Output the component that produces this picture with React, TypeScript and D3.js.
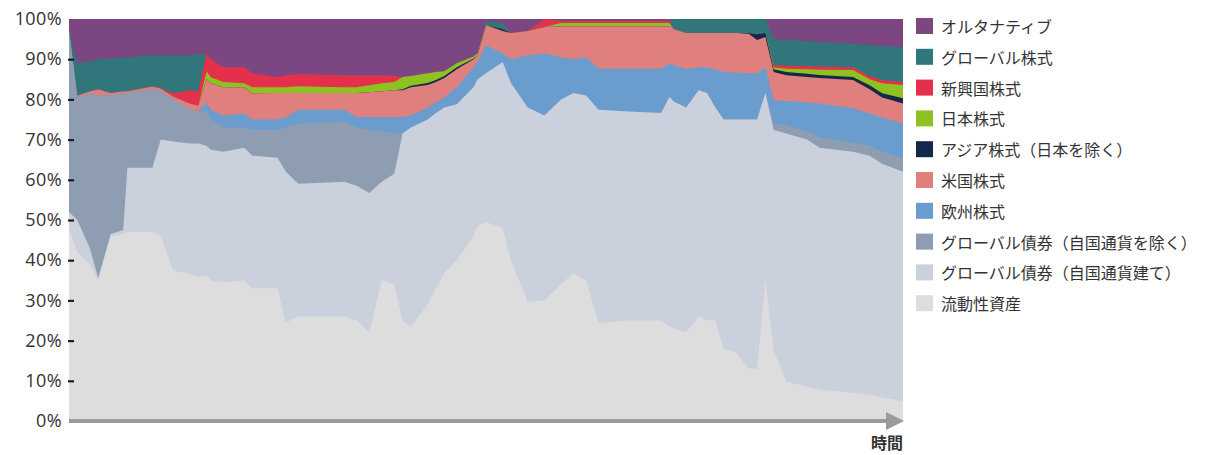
import React, { useEffect, useRef } from "react";
import * as d3 from "d3";

// time steps (arbitrary units along the x axis)
const periods = [
  0, 2, 5, 7, 10, 13, 14, 20, 22, 25, 29, 31, 33, 34, 37, 42, 44, 50, 52, 55,
  66, 69, 72, 75, 78, 80, 82, 86, 88, 90, 93, 97, 98, 100, 104, 106, 110, 114,
  118, 121, 124, 127, 134, 142, 144, 145, 148, 151, 153, 155, 157, 160, 163,
  165, 167, 169, 172, 177, 180, 188, 192, 195, 200,
];

// shares in % per asset class, bottom of the stack first
const liquidAssets = [
  48, 42, 39, 35, 46, 46.5, 47, 47, 46, 37.5, 36.5, 36, 36, 35, 34.5, 35, 33,
  33, 24.5, 26, 26, 25, 22, 35, 34, 25, 23.5, 29, 33, 36.8, 40, 46, 48.5, 49.5,
  48, 40, 29.6, 30, 34, 36.8, 35, 24.4, 25, 25, 23.5, 23, 22, 26, 25, 25, 18,
  17, 13, 13, 35, 17.6, 9.8, 8.5, 7.8, 7, 6.5, 5.8, 5,
];
const globalBondsHome = [
  4, 8, 4, 0.5, 0.5, 1, 16, 16, 24, 32, 32.5, 33, 32.5, 32.5, 32.5, 33, 33,
  32.5, 37.5, 33, 33.5, 33.5, 34.7, 24.5, 27.5, 46.6, 49.5, 46, 43.6, 41.2,
  38.8, 37, 36.5, 37, 41.3, 44, 48.4, 46, 46, 44.8, 46, 53, 52, 51.6, 57.1,
  56.5, 56, 56.3, 56.6, 53, 57, 58, 62, 62, 46.6, 54.8, 61.7, 61.5, 60.2, 60,
  59.5, 58.2, 57,
];
const globalBondsExHome = [
  45, 30.5, 38.5, 45.5, 34.5, 34, 18.5, 19.5, 12, 10.5, 8.5, 8, 8.5, 7.5, 6, 5,
  6.4, 6.9, 11, 15, 14.9, 14.5, 15.8, 12.5, 10.1, 0, 0, 0, 0, 0, 0, 0, 0, 0, 0,
  0, 0, 0, 0, 0, 0, 0, 0, 0, 0, 0, 0, 0, 0, 0, 0, 0, 0, 0, 0, 1.6, 2, 2, 2.6,
  2.3, 2.5, 3, 3.5,
];
const europeEquity = [
  0, 0, 0, 0, 0, 0, 0, 0, 0, 0, 0, 0, 2.2, 2.5, 3, 3.5, 2.6, 2.6, 2.5, 3.4, 3,
  2.6, 3.1, 3.6, 4, 4, 3, 3, 2.7, 2.5, 4.2, 5, 4.5, 7, 2.2, 6, 13, 15.5, 10.5,
  8.4, 9.5, 10.2, 10.6, 11, 8.4, 9, 9.6, 5.7, 6.4, 9.5, 11.8, 11.7, 11.5, 11.5,
  6.4, 5.8, 6.1, 7.3, 8.4, 8.5, 8, 8.5, 8.5,
];
const usEquity = [
  0, 0.5, 0.5, 1.5, 0.6, 0.5, 0.5, 0.7, 0.7, 0.7, 1.5, 1.5, 5.8, 6.5, 7, 6.5,
  6.5, 6.6, 6.1, 4.2, 4.2, 6, 6.2, 6.4, 6.7, 6.7, 7, 5.6, 5, 4.8, 4.5, 2, 1.5,
  5, 5.5, 6.5, 6, 6.5, 7.7, 8.2, 7.7, 10.6, 10.6, 10.6, 9.2, 9, 8.9, 8.5, 8.5,
  9, 9.7, 9.8, 9.8, 8.3, 7.5, 7, 6.4, 6.3, 6.3, 7, 6, 5, 5,
];
const asiaExJapanEquity = [
  0, 0, 0, 0, 0, 0, 0, 0, 0, 0, 0, 0, 0, 0, 0, 0, 0, 0, 0, 0, 0, 0, 0, 0, 0,
  0.2, 0.4, 0.5, 0.5, 0.5, 0.5, 0.2, 0, 0, 0.5, 0, 0, 0, 0, 0, 0, 0, 0, 0, 0, 0,
  0, 0, 0, 0, 0, 0, 0.2, 1.4, 1, 0.7, 0.8, 0.8, 0.8, 0.8, 1, 1, 1.3,
];
const japanEquity = [
  0, 0, 0, 0, 0, 0, 0, 0, 0, 0, 0, 0, 2, 1.5, 1.3, 1, 1.5, 1.4, 1.4, 1.7, 1.4,
  1.4, 1.7, 2, 2, 3.1, 2.4, 2.4, 2, 1.2, 1, 0.5, 0.5, 0, 0, 0, 0, 0, 0.8, 0.8,
  0.8, 0.8, 0.8, 0.8, 0.8, 0, 0, 0, 0, 0, 0, 0, 0, 0, 0, 0.5, 0.8, 1.1, 1.3,
  1.7, 1.5, 2.5, 3.3,
];
const emergingEquity = [
  0, 0, 0, 0, 0, 0, 0, 0, 0, 0.8, 3.3, 3.5, 4.5, 4.5, 3.7, 4, 3.5, 2.6, 3, 3, 3,
  3, 2.5, 2, 1.5, 0, 0, 0, 0, 0, 0, 0, 0, 0, 0, 0, 0, 2, 0.5, 0.5, 0.5, 0.5,
  0.5, 0.5, 0.5, 0, 0, 0, 0, 0, 0, 0, 0, 0, 0, 0.6, 0.8, 0.8, 0.8, 0.7, 0.8,
  0.8, 0.7,
];
const globalEquity = [
  0, 8, 7.5, 7.5, 8.6, 8.5, 8.5, 7.8, 8.3, 9.5, 8.7, 9.2, 0, 0, 0, 0, 0, 0, 0,
  0, 0, 0, 0, 0, 0, 0, 0, 0, 0, 0, 0, 0, 0, 1, 1.5, 0, 0, 0, 0, 0, 0, 0, 0, 0,
  0, 2.5, 3.5, 3.5, 3.5, 3.5, 3.5, 3.5, 3.5, 3.8, 3.5, 6.4, 6.4, 6.2, 6.1, 5.8,
  7.7, 8.5, 8.7,
];
const alternatives = [
  3, 11, 10.5, 10, 9.8, 9.5, 9.5, 9, 9, 9, 9, 8.8, 8.5, 10, 12, 12, 13.5, 14.4,
  14, 13.7, 14, 14, 14, 14, 14.2, 14.4, 14.2, 13.5, 13.2, 13, 11, 9.3, 8.5, 0.5,
  1, 3.5, 3, 0, 0.5, 0.5, 0.5, 0.5, 0.5, 0.5, 0.5, 0, 0, 0, 0, 0, 0, 0, 0, 0,
  0, 5, 5.2, 5.5, 5.7, 6.2, 6.5, 6.7, 7,
];

const seriesKeys = [
  "liquid",
  "bondsHome",
  "bondsExHome",
  "europe",
  "us",
  "asia",
  "japan",
  "emerging",
  "global",
  "alt",
];
const seriesValues: Record<string, number[]> = {
  liquid: liquidAssets,
  bondsHome: globalBondsHome,
  bondsExHome: globalBondsExHome,
  europe: europeEquity,
  us: usEquity,
  asia: asiaExJapanEquity,
  japan: japanEquity,
  emerging: emergingEquity,
  global: globalEquity,
  alt: alternatives,
};
const seriesLabels: Record<string, string> = {
  alt: "オルタナティブ",
  global: "グローバル株式",
  emerging: "新興国株式",
  japan: "日本株式",
  asia: "アジア株式（日本を除く）",
  us: "米国株式",
  europe: "欧州株式",
  bondsExHome: "グローバル債券（自国通貨を除く）",
  bondsHome: "グローバル債券（自国通貨建て）",
  liquid: "流動性資産",
};
const seriesColors: Record<string, string> = {
  alt: "#7b4682",
  global: "#30767a",
  emerging: "#e5304b",
  japan: "#8dc220",
  asia: "#14284b",
  us: "#df7f7e",
  europe: "#6a9dcd",
  bondsExHome: "#8e9db2",
  bondsHome: "#cad0dc",
  liquid: "#dddddd",
};
const yTicks = [0, 0.1, 0.2, 0.3, 0.4, 0.5, 0.6, 0.7, 0.8, 0.9, 1];
const xAxisLabel = "時間";

const App: React.FC = () => {
  const svgRef = useRef<SVGSVGElement | null>(null);
  const totalWidth = 1225;
  const totalHeight = 455;
  const margin = { top: 19, right: 322, bottom: 34, left: 69 };
  const width = totalWidth - margin.left - margin.right;
  const height = totalHeight - margin.top - margin.bottom;

  useEffect(() => {
    if (!svgRef.current) return;
    const svg = d3.select(svgRef.current);
    svg.selectAll("*").remove();

    // rows for d3.stack
    const rows = periods.map((p, i) => {
      const row: Record<string, number> = { period: p };
      seriesKeys.forEach((k) => (row[k] = seriesValues[k][i]));
      return row;
    });

    const stacked = d3
      .stack<Record<string, number>>()
      .keys(seriesKeys)
      .offset(d3.stackOffsetExpand)(rows);

    const xScale = d3
      .scaleLinear()
      .domain(d3.extent(periods) as [number, number])
      .range([0, width]);
    const yScale = d3.scaleLinear().domain([0, 1]).range([height, 0]);

    // each layer is filled from the baseline up to its top; drawing the
    // top layer first hides the seams between neighbouring areas
    const fillArea = d3
      .area<d3.SeriesPoint<Record<string, number>>>()
      .x((d) => xScale(d.data.period))
      .y0(height)
      .y1((d) => yScale(d[1]));

    const chart = svg
      .append("g")
      .attr("transform", `translate(${margin.left},${margin.top})`);

    chart
      .selectAll(".layer")
      .data(stacked.slice().reverse())
      .enter()
      .append("path")
      .attr("class", "layer")
      .attr("fill", (d) => seriesColors[d.key])
      .attr("d", fillArea);

    // y axis: labels plus short dark ticks over the plot edge
    const yAxis = d3
      .axisLeft(yScale)
      .tickValues(yTicks)
      .tickFormat(d3.format(".0%"))
      .tickSize(-6)
      .tickPadding(6);

    const yAxisG = chart.append("g").attr("transform", "translate(-1,0)").call(yAxis);
    yAxisG.select(".domain").remove();
    yAxisG
      .selectAll(".tick line")
      .attr("stroke", "#1e1e1e")
      .attr("stroke-width", 2.2)
      .attr("opacity", (d) => ((d as number) > 0 && (d as number) < 1 ? 1 : 0));
    yAxisG
      .selectAll(".tick text")
      .attr("fill", "#333")
      .style("font-family", "'Open Sans', 'Noto Sans', sans-serif")
      .style("font-size", "18px")
      .style("letter-spacing", "0.4px");

    // x axis drawn as a grey arrow
    const arrowHead = 17;
    chart
      .append("line")
      .attr("x1", xScale(periods[0]))
      .attr("x2", width - arrowHead + 2)
      .attr("y1", yScale(0))
      .attr("y2", yScale(0))
      .attr("stroke", "#9b9b9b")
      .attr("stroke-width", 4);
    chart
      .append("path")
      .attr(
        "d",
        `M${width - arrowHead},${yScale(0) - 9} L${width + 1},${yScale(0)} L${
          width - arrowHead
        },${yScale(0) + 9} Z`
      )
      .attr("fill", "#9b9b9b");

    chart
      .append("text")
      .attr("x", width)
      .attr("y", height + 28)
      .attr("text-anchor", "end")
      .attr("fill", "#333")
      .style("font-family", "'Noto Sans CJK JP', sans-serif")
      .style("font-size", "16px")
      .style("font-weight", 700)
      .text(xAxisLabel);

    // legend, top series first
    const legend = svg
      .append("g")
      .attr("transform", `translate(${margin.left + width + 13},26)`);
    const legendItems = legend
      .selectAll(".legend-item")
      .data(seriesKeys.slice().reverse())
      .enter()
      .append("g")
      .attr("class", "legend-item")
      .attr("transform", (_d, i) => `translate(0,${i * 30.8})`);

    legendItems
      .append("rect")
      .attr("x", 0)
      .attr("y", -8)
      .attr("width", 17)
      .attr("height", 16)
      .attr("fill", (d) => seriesColors[d]);

    legendItems
      .append("text")
      .attr("x", 25)
      .attr("y", 0)
      .attr("dominant-baseline", "central")
      .attr("fill", "#333")
      .style("font-family", "'Noto Sans CJK JP', sans-serif")
      .style("font-size", "16px")
      .text((d) => seriesLabels[d]);
  }, []);

  return (
    <div style={{ position: "absolute", left: 0, top: 0 }}>
      <svg
        ref={svgRef}
        width={totalWidth}
        height={totalHeight}
        style={{ display: "block", background: "#fff" }}
      ></svg>
    </div>
  );
};

export default App;
